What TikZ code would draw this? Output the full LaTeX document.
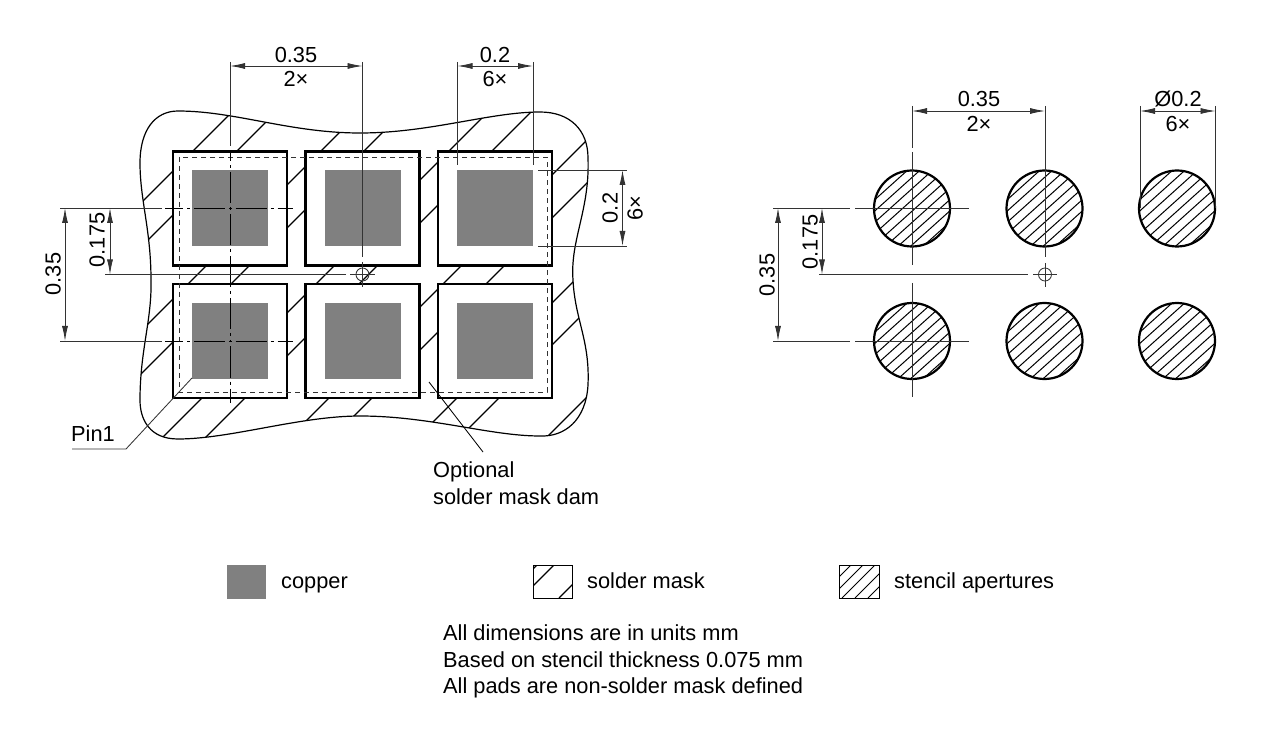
\documentclass[tikz,border=0pt]{standalone}
\usepackage{fontspec}
\setmainfont{Liberation Sans}
\usetikzlibrary{arrows.meta}
\usetikzlibrary{positioning}
\def\blobpath{(140,163) .. controls (140,130) and (155,111) .. (178,111) .. controls (235,111) and (290,133) .. (360,133) .. controls (430,133) and (490,112) .. (540,112) .. controls (570,112) and (588,130) .. (588,158) .. controls (590,210) and (570,240) .. (573,280) .. controls (575,320) and (590,340) .. (588,385) .. controls (586,420) and (565,437) .. (540,436) .. controls (490,436) and (430,416) .. (360,416) .. controls (300,416) and (230,439) .. (178,439) .. controls (150,439) and (140,420) .. (140,400) .. controls (140,350) and (152,320) .. (151,280) .. controls (151,230) and (140,200) .. (140,163) -- cycle}

\begin{document}
\begin{tikzpicture}[x=1pt,y=-1pt,>={Latex[length=15pt,width=6pt]},node distance=132.5pt]
	\tikzstyle{pad}=[draw,line width=2.6pt,fill=white,minimum size=114pt,inner sep=0pt,outer sep=0pt]
	\tikzstyle{cu}=[fill=cugray,minimum size=76pt,inner sep=0pt,outer sep=0pt]
	\tikzstyle{hole}=[draw,circle,line width=2.2pt,minimum size=76pt,inner sep=0pt,outer sep=0pt,
		path picture={\foreach \o in {-47,-34.5,-22,-9.5,3,15.5,28,40.5,53}
			\draw[line width=1pt] ([xshift=\o pt-60pt,yshift=-54pt]path picture bounding box.center) -- ([xshift=\o pt+60pt,yshift=54pt]path picture bounding box.center);}]
	\tikzstyle{thinline}=[line width=.85pt,black!80]
	\tikzstyle{dim}=[thinline,<->]
	\tikzstyle{cline}=[line width=.9pt,black,dash pattern=on 3pt off 4pt on 31pt off 4pt,dash phase=1.5pt]
	\tikzstyle{hatch}=[line width=1.1pt]
	\tikzstyle{lbl}=[inner sep=0pt,font=\fontsize{21.8}{26.5}\selectfont]
	\definecolor{cugray}{gray}{.5}
	\useasboundingbox (0,0) rectangle (1280,735);

	\begin{scope}
		\clip \blobpath;
		\foreach \c in {344,388,472,515,600,643,727,770,855,897,984}
			\draw[hatch] (\c-450,450) -- (\c-100,100);
	\end{scope}
	\draw[line width=1.2pt] \blobpath;

	\node[pad] (A) at (230,208.5) {};
	\node[pad] (B) [right of=A] {};
	\node[pad] (C) [right of=B] {};
	\node[pad] (D) [below of=A] {};
	\node[pad] (E) [right of=D] {};
	\node[pad] (F) [right of=E] {};
	\foreach \p in {A,B,C,D,E,F}
		\node[cu] (cu\p) at (\p) {};
	\draw[thinline,dash pattern=on 5pt off 4pt] (179,157) rectangle (547,392);

	% centre lines, left
	\coordinate (mid) at (362.5,274.5);
	\foreach \p in {A,D} {
		\draw[cline] (\p.center) -- ++(-65,0);
		\draw[cline] (\p.center) -- ++(63,0);
	}
	\draw[cline] (A.center) -- ++(0,-58);
	\draw[cline] (A.center) -- (D.center);
	\draw[cline] (D.center) -- ++(0,62);
	\node[draw,thinline,circle,minimum size=13pt,inner sep=0pt] (markL) at (mid) {};
	\draw[thinline] (346,274.5) -- (105,274.5);
	\draw[thinline] (350,274.5) -- (375,274.5);
	\draw[thinline] (362.5,262) -- (362.5,287);

	% dimensions, left
	\coordinate (extA) at (230,62);
	\coordinate (extB) at (362.5,62);
	\draw[thinline] (extA) -- (230,146);
	\draw[thinline] (extB) -- (362.5,257);
	\draw[dim] (230,66) coordinate (dimA) -- (362.5,66) coordinate (dimB);
	\draw[thinline] (457.5,62) -- (457.5,165);
	\draw[thinline] (533,62) -- (533,165);
	\draw[dim] (457.5,66) coordinate (dimC) -- (533,66) coordinate (dimD);
	\draw[thinline] (538,170) -- (627,170);
	\draw[thinline] (538,246) -- (627,246);
	\draw[dim] (622.5,170) -- (622.5,246);
	\draw[thinline] (60,208) -- (162,208);
	\draw[thinline] (60,341) -- (162,341);
	\draw[dim] (65,208) -- (65,341);
	\draw[dim] (110,208) -- (110,274.5);

	\node[lbl] (pitchL) at (296,54.5) {0.35};
	\node[lbl] (pitchLn) at (296,79) {2×};
	\node[lbl] (sizeL) at (495,54.5) {0.2};
	\node[lbl] (sizeLn) at (495,79) {6×};
	\node[lbl,rotate=90] (sizeV) at (610,208) {0.2};
	\node[lbl,rotate=90] (sizeVn) at (635,208) {6×};
	\node[lbl,rotate=90] (rowL) at (53,274) {0.35};
	\node[lbl,rotate=90] (halfL) at (97,240) {0.175};

	\node[lbl,anchor=base west] (pinlbl) at (71,441) {Pin1};
	\coordinate (pinA) at (72,449);
	\coordinate (pinB) at (126,449);
	\coordinate (pinC) at (192,378);
	\draw[thinline] (pinA) -- (pinB) -- (pinC);
	\coordinate (damA) at (429,382);
	\coordinate (damB) at (483,452);
	\draw[thinline,black] (damA) -- (damB);
	\node[lbl,anchor=west,align=left] (damlbl) at (433,483) {Optional\\solder mask dam};

	% right part
	\node[hole] (P) at (912,208.5) {};
	\node[hole] (Q) [right of=P] {};
	\node[hole] (R) [right of=Q] {};
	\node[hole] (S) [below of=P] {};
	\node[hole] (T) [right of=S] {};
	\node[hole] (U) [right of=T] {};

	\draw[thinline] (912,106) -- (912,148);
	\draw[thinline] (912,152) -- (912,265);
	\draw[thinline] (912,283) -- (912,397);
	\draw[thinline] (1045,106) -- (1045,257);
	\draw[thinline] (1045,263) -- (1045,287);
	\draw[thinline] (773,208) -- (850,208);
	\draw[thinline] (855,208) -- (969,208);
	\draw[thinline] (773,341) -- (850,341);
	\draw[thinline] (855,341) -- (969,341);
	\draw[thinline] (819,274.5) -- (1028,274.5);
	\draw[thinline] (1033,274.5) -- (1057,274.5);
	\node[draw,thinline,circle,minimum size=13pt,inner sep=0pt] (markR) at (1045,274.5) {};
	\draw[thinline] (1140,106) -- (1140,208);
	\draw[thinline] (1215.5,106) -- (1215.5,208);
	\draw[dim] (912,111) -- (1045,111);
	\draw[dim] (1140,111) -- (1215.5,111);
	\draw[dim] (778,208) -- (778,341);
	\draw[dim] (822,208) -- (822,274.5);

	\node[lbl] (pitchR) at (979,99) {0.35};
	\node[lbl] (pitchRn) at (979,123.5) {2×};
	\node[lbl] (diaR) at (1178,99) {Ø0.2};
	\node[lbl] (diaRn) at (1178,123.5) {6×};
	\node[lbl,rotate=90] (rowR) at (767,275) {0.35};
	\node[lbl,rotate=90] (halfR) at (810,242) {0.175};

	% legend
	\node[fill=cugray,minimum width=39pt,minimum height=34pt,inner sep=0pt] (keyCu) at (246,581.5) {};
	\node[lbl,anchor=base west] (keyCulbl) at (281,588) {copper};
	\begin{scope}
		\clip (533,565) rectangle (572,598);
		\foreach \c in {1102,1119,1157}
			\draw[hatch] (\c-598,598) -- (\c-565,565);
	\end{scope}
	\node[draw,thinline,black,minimum width=39pt,minimum height=33pt,inner sep=0pt] (keyMask) at (552.5,581.5) {};
	\node[lbl,anchor=base west] (keyMasklbl) at (587,588) {solder mask};
	\begin{scope}
		\clip (839,565) rectangle (879,598);
		\foreach \c in {1416,1428,1440,1453,1466}
			\draw[line width=.9pt] (\c-598,598) -- (\c-565,565);
	\end{scope}
	\node[draw,thinline,black,minimum width=40pt,minimum height=33pt,inner sep=0pt] (keyHole) at (859,581.5) {};
	\node[lbl,anchor=base west] (keyHolelbl) at (894,588) {stencil apertures};

	\node[lbl,anchor=west,align=left] (notes) at (443,661.5) {All dimensions are in units mm\\Based on stencil thickness 0.075 mm\\All pads are non-solder mask defined};
\end{tikzpicture}
\end{document}
